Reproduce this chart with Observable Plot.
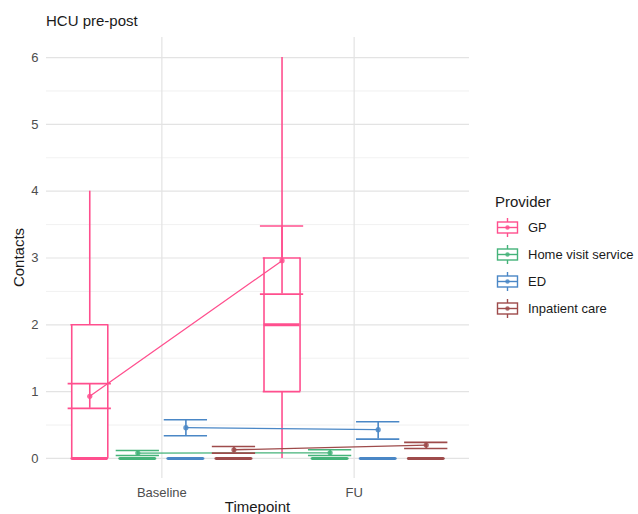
<!DOCTYPE html>
<html>
<head>
<meta charset="utf-8">
<script src="https://cdn.jsdelivr.net/npm/d3@7"></script>
<script src="https://cdn.jsdelivr.net/npm/@observablehq/plot@0.6"></script>
<style>
  html, body { margin: 0; padding: 0; background: #fff; }
  #wrap { position: relative; width: 638px; height: 514px; overflow: hidden; font-family: "Liberation Sans", Arial, sans-serif; }
  #wrap > svg { position: absolute; left: 0; top: 0; }
  #overlay { position: absolute; left: 0; top: 0; pointer-events: none; }
</style>
</head>
<body>
<div id="wrap"></div>
<script>
// ---- Data ----
const timepoints = ["Baseline", "FU"];
const providers = ["GP", "Home visit service", "ED", "Inpatient care"];
const colors = ["#FF4F8E", "#45B37A", "#4A87C6", "#9E4B4B"];

// Box statistics per provider, each entry [Baseline, FU]
const whiskerLow = [[0, 0], [0, 0], [0, 0], [0, 0]];
const q1 = [[0, 1], [0, 0], [0, 0], [0, 0]];
const median = [[0, 2], [0, 0], [0, 0], [0, 0]];
const q3 = [[2, 3], [0, 0], [0, 0], [0, 0]];
const whiskerHigh = [[4, 6], [0, 0], [0, 0], [0, 0]];

// Mean and standard-error bars per provider, each entry [Baseline, FU]
const meanVal = [[0.93, 2.96], [0.08, 0.085], [0.46, 0.43], [0.13, 0.2]];
const seLow = [[0.75, 2.46], [0.045, 0.045], [0.34, 0.29], [0.08, 0.15]];
const seHigh = [[1.12, 3.48], [0.12, 0.13], [0.58, 0.55], [0.18, 0.24]];

const yTicks = [0, 1, 2, 3, 4, 5, 6];
const yMinor = [0.5, 1.5, 2.5, 3.5, 4.5, 5.5];

// ---- Layout ----
const W = 638, H = 514;
const dodge = 0.25, boxW = 0.1875, errW = 0.225;

const rows = [];
timepoints.forEach((t, ti) => providers.forEach((p, pi) => rows.push({
  t, p, ti, pi,
  xc: ti + 1 + (pi - 1.5) * dodge,
  wlo: whiskerLow[pi][ti], q1: q1[pi][ti], med: median[pi][ti], q3: q3[pi][ti], whi: whiskerHigh[pi][ti],
  mean: meanVal[pi][ti], slo: seLow[pi][ti], shi: seHigh[pi][ti]
})));

const lw = 1.6;
const left = d => d.xc - boxW / 2, right = d => d.xc + boxW / 2;
const eLeft = d => d.xc - errW / 2, eRight = d => d.xc + errW / 2;

const chart = Plot.plot({
  width: W, height: H,
  marginLeft: 46, marginRight: 169, marginTop: 37, marginBottom: 36,
  style: { fontFamily: "'Liberation Sans', Arial, sans-serif", fontSize: "13px", color: "#4D4D4D", background: "white" },
  x: { type: "linear", domain: [0.4, 2.6] },
  y: { type: "linear", domain: [-0.3, 6.3] },
  color: { domain: providers, range: colors },
  marks: [
    Plot.gridY(yMinor, { stroke: "#EBEBEB", strokeOpacity: 1, strokeWidth: 0.7 }),
    Plot.gridY(yTicks, { stroke: "#E3E3E3", strokeOpacity: 1, strokeWidth: 1.2 }),
    Plot.gridX([1, 2], { stroke: "#E3E3E3", strokeOpacity: 1, strokeWidth: 1.2 }),
    Plot.axisY(yTicks, { tickSize: 0, tickPadding: 8, label: null, fontSize: 13, tickFormat: d3.format("d") }),
    Plot.axisX([1, 2], { tickSize: 0, tickPadding: 9, label: null, fontSize: 13, tickFormat: i => timepoints[i - 1] }),
    // boxplots
    Plot.ruleX(rows, { x: "xc", y1: "wlo", y2: "q1", stroke: "p", strokeWidth: lw }),
    Plot.ruleX(rows, { x: "xc", y1: "q3", y2: "whi", stroke: "p", strokeWidth: lw }),
    Plot.rect(rows.filter(d => d.q3 > d.q1), { x1: left, x2: right, y1: "q1", y2: "q3", fill: "white" }),
    Plot.ruleX(rows, { x: left, y1: "q1", y2: "q3", stroke: "p", strokeWidth: lw }),
    Plot.ruleX(rows, { x: right, y1: "q1", y2: "q3", stroke: "p", strokeWidth: lw }),
    Plot.ruleY(rows, { y: "q1", x1: d => left(d) - 0.004, x2: d => right(d) + 0.004, stroke: "p", strokeWidth: lw }),
    Plot.ruleY(rows, { y: "q3", x1: d => left(d) - 0.004, x2: d => right(d) + 0.004, stroke: "p", strokeWidth: lw }),
    Plot.ruleY(rows, { y: "med", x1: left, x2: right, stroke: "p", strokeWidth: 3 }),
    // connecting lines of means
    Plot.line(rows, { x: "xc", y: "mean", z: "p", stroke: "p", strokeWidth: 1.3 }),
    // error bars
    Plot.ruleX(rows, { x: "xc", y1: "slo", y2: "shi", stroke: "p", strokeWidth: lw }),
    Plot.ruleY(rows, { y: "slo", x1: eLeft, x2: eRight, stroke: "p", strokeWidth: lw }),
    Plot.ruleY(rows, { y: "shi", x1: eLeft, x2: eRight, stroke: "p", strokeWidth: lw }),
    // mean points
    Plot.dot(rows, { x: "xc", y: "mean", fill: "p", r: 2.6, fillOpacity: 0.85 })
  ]
});

const wrap = document.getElementById("wrap");
wrap.appendChild(chart);

// ---- Overlay: title, axis titles, legend ----
const ov = d3.select(wrap).append("svg").attr("id", "overlay").attr("width", W).attr("height", H)
  .style("font-family", "'Liberation Sans', Arial, sans-serif");

ov.append("text").attr("x", 46).attr("y", 25.5).attr("font-size", 15).attr("fill", "#1a1a1a").text("HCU pre-post");
ov.append("text").attr("x", 257.5).attr("y", 512).attr("text-anchor", "middle").attr("font-size", 15).attr("fill", "#1a1a1a").text("Timepoint");
ov.append("text").attr("transform", "translate(23.5,257.5) rotate(-90)").attr("text-anchor", "middle").attr("font-size", 15).attr("fill", "#1a1a1a").text("Contacts");

ov.append("text").attr("x", 495).attr("y", 206.5).attr("font-size", 15).attr("fill", "#1a1a1a").text("Provider");

providers.forEach((p, i) => {
  const cy = 227.5 + i * 27, cx = 507.5, c = colors[i];
  const g = ov.append("g");
  g.append("line").attr("x1", cx).attr("x2", cx).attr("y1", cy - 9.5).attr("y2", cy - 5.5).attr("stroke", c).attr("stroke-width", 1.4);
  g.append("line").attr("x1", cx).attr("x2", cx).attr("y1", cy + 5.5).attr("y2", cy + 9.5).attr("stroke", c).attr("stroke-width", 1.4);
  g.append("rect").attr("x", cx - 10).attr("y", cy - 5.5).attr("width", 20).attr("height", 11).attr("fill", "white").attr("stroke", c).attr("stroke-width", 1.4);
  g.append("line").attr("x1", cx - 10).attr("x2", cx + 10).attr("y1", cy).attr("y2", cy).attr("stroke", c).attr("stroke-width", 1.4);
  g.append("circle").attr("cx", cx).attr("cy", cy).attr("r", 2.2).attr("fill", c).attr("fill-opacity", 0.85);
  ov.append("text").attr("x", 528).attr("y", cy + 4.6).attr("font-size", 13).attr("fill", "#1a1a1a").text(p);
});
</script>
</body>
</html>
